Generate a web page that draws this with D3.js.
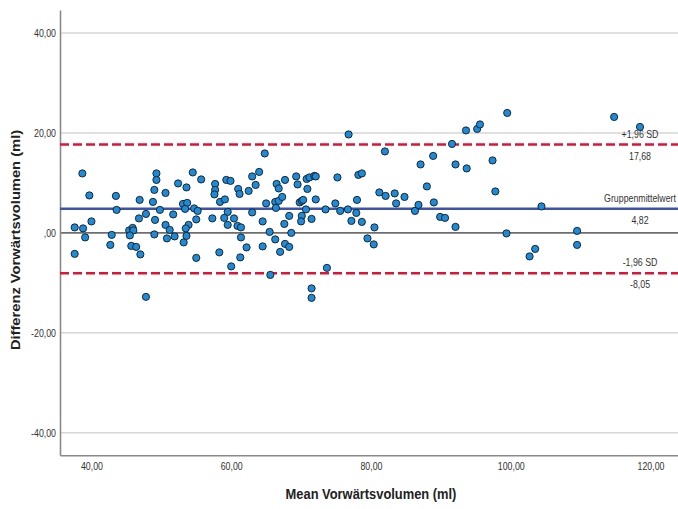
<!DOCTYPE html>
<html>
<head>
<meta charset="utf-8">
<script src="https://cdn.jsdelivr.net/npm/d3@7"></script>
<style>
    body { margin: 0; background: #fff; }
    svg text { font-family: "Liberation Sans", Arial, sans-serif; }
</style>
</head>
<body>
<div id="chart"></div>
<script>
// Bland-Altman: mean vs. difference of forward volume (ml)
const meanVolume = [
    38.7, 39.7, 37.6, 38.8, 40.0, 39.1, 37.6, 43.5, 43.6, 42.9,
    42.7, 46.9, 46.8, 47.8, 45.4, 45.9, 46.0, 45.5, 45.7, 46.4,
    47.0, 47.8, 49.3, 49.3, 49.0, 48.8, 50.6, 49.8, 49.1, 49.0,
    50.6, 51.2, 50.8, 51.9, 51.7, 52.4, 53.6, 54.5, 55.7, 57.7,
    57.7, 57.6, 53.1, 53.7, 53.4, 54.7, 55.2, 55.0, 53.9, 53.5,
    53.6, 53.2, 55.0, 57.3, 58.4, 59.1, 58.3, 59.3, 59.9, 59.5,
    59.0, 59.5, 60.0, 61.0, 61.2, 60.4, 60.9, 61.4, 61.4, 62.2,
    61.3, 62.5, 63.0, 63.5, 64.0, 63.0, 64.8, 64.5, 64.5, 65.5,
    65.6, 65.0, 66.3, 66.5, 66.8, 66.3, 66.8, 66.4, 67.3, 67.7,
    67.6, 67.0, 67.7, 68.3, 68.3, 68.6, 69.3, 69.5, 69.8, 70.1,
    70.3, 70.7, 70.1, 70.0, 71.5, 70.8, 71.2, 71.9, 72.1, 70.9,
    72.1, 71.5, 71.5, 73.5, 73.7, 74.9, 75.2, 75.6, 76.8, 76.7,
    77.2, 77.9, 78.0, 78.2, 78.7, 78.7, 79.5, 80.4, 80.5, 82.0,
    81.2, 82.1, 83.4, 83.6, 84.8, 86.3, 86.8, 87.1, 88.0, 88.9,
    89.0, 89.9, 90.6, 91.6, 92.1, 92.1, 93.6, 93.7, 95.2, 95.6,
    97.4, 97.8, 99.4, 99.5, 104.4, 102.7, 103.5, 109.5, 109.5, 114.8, 118.5
];
const diffVolume = [
    11.9, 7.5, 1.1, 0.9, 2.3, -0.9, -4.2, 7.4, 4.6, -0.4,
    -2.4, 6.6, 2.9, 3.8, 0.5, 1.0, 0.5, -0.5, -2.6, -2.8,
    -4.3, -12.8, 11.9, 10.6, 8.6, 6.2, 8.0, 4.6, 2.6, -0.3,
    1.6, 0.6, -1.1, -0.7, 3.7, 9.9, 9.1, 12.1, 10.7, 9.8,
    8.6, 7.7, 5.8, 6.0, 4.8, 4.9, 4.4, 2.7, 1.6, 0.9,
    -0.6, -1.9, -5.0, 2.9, 6.2, 6.7, -3.9, 10.6, 10.4, 4.2,
    3.0, 1.6, -6.7, 8.8, 7.8, 2.9, 1.4, 1.1, -0.9, -2.9,
    -4.9, 8.4, 11.3, 9.6, 12.2, 4.1, 15.9, 2.3, -2.7, 0.2,
    -8.4, 5.9, -1.3, 9.8, 8.9, 6.2, 6.4, 5.0, 7.2, 10.6,
    1.8, -3.8, -2.2, -2.8, 3.4, 0.0, 11.3, 9.7, 6.1, 6.4,
    6.6, 4.7, 3.4, 2.3, 2.8, 10.8, 11.1, 11.4, 11.3, 8.8,
    6.7, -11.1, -13.0, 4.7, -7.0, 5.9, 11.1, 4.4, 19.7, 4.7,
    2.4, 4.0, 6.6, 11.6, 11.9, 2.2, -1.1, -2.3, 1.1, 16.3,
    8.1, 7.4, 7.9, 5.9, 7.2, 4.4, 5.6, 13.7, 9.3, 15.4,
    6.1, 3.2, 3.0, 17.8, 13.7, 1.2, 20.5, 12.9, 20.8, 21.7,
    14.5, 8.3, -0.1, 24.0, 5.3, -4.7, -3.2, 0.4, -2.4, 23.2, 21.2
];

const xTicks = [40, 60, 80, 100, 120];
const yTicks = [-40, -20, 0, 20, 40];

// reference lines: mean difference and limits of agreement
const refLines = [
    { value: 17.68, kind: 'sd', above: '+1,96 SD', below: '17,68' },
    { value: 4.82, kind: 'mean', above: 'Gruppenmittelwert', below: '4,82' },
    { value: -8.05, kind: 'sd', above: '-1,96 SD', below: '-8,05' }
];

const width = 678, height = 509;
const margin = { top: 10, right: 0, bottom: 56, left: 60 };
const narrow = 0.8; // SPSS export uses a condensed face

const svg = d3.select('#chart').append('svg')
    .attr('width', width)
    .attr('height', height);

const x = d3.scaleLinear()
    .domain([35.5, 123.94])
    .range([margin.left, width - margin.right]);

const y = d3.scaleLinear()
    .domain([-44.5, 44.6])
    .range([height - margin.bottom + 2.3, margin.top]);

// german style numbers, SPSS prints zero as ",00"
const fmt = v => v === 0 ? ',00' : (v < 0 ? '-' : '') + Math.abs(v).toFixed(2).replace('.', ',');

// horizontal grid
svg.append('g')
    .selectAll('line')
    .data(yTicks.filter(d => d !== 0))
    .join('line')
    .attr('x1', x.range()[0])
    .attr('x2', x.range()[1])
    .attr('y1', d => y(d))
    .attr('y2', d => y(d))
    .attr('stroke', '#d6d6d6')
    .attr('stroke-width', 1.5);

// zero line
svg.append('line')
    .attr('x1', x.range()[0])
    .attr('x2', x.range()[1])
    .attr('y1', y(0))
    .attr('y2', y(0))
    .attr('stroke', '#6e6e6e')
    .attr('stroke-width', 1.6);

// axes
const xAxis = svg.append('g')
    .attr('transform', `translate(0,${y.range()[0]})`)
    .call(d3.axisBottom(x).tickValues(xTicks).tickSize(0).tickFormat(fmt));
const yAxis = svg.append('g')
    .attr('transform', `translate(${margin.left},0)`)
    .call(d3.axisLeft(y).tickValues(yTicks).tickSize(0).tickFormat(fmt));

[xAxis, yAxis].forEach(a => {
    a.select('.domain').attr('stroke', '#8a8a8a').attr('stroke-width', 1.6);
    a.selectAll('text')
        .attr('fill', '#333')
        .attr('transform', `scale(${narrow},1)`)
        .style('font-size', '11px');
});
xAxis.selectAll('text').attr('dy', '1.1em');
yAxis.selectAll('text').attr('x', -5).attr('dx', 0);

// mean + limits
refLines.forEach(r => {
    svg.append('line')
        .attr('x1', x.range()[0])
        .attr('x2', x.range()[1])
        .attr('y1', y(r.value))
        .attr('y2', y(r.value))
        .attr('stroke', r.kind === 'mean' ? '#3c53a8' : '#dc1538')
        .attr('stroke-width', 2.5)
        .attr('stroke-dasharray', r.kind === 'mean' ? null : '9,4');
});

// points
svg.append('g')
    .selectAll('circle')
    .data(d3.zip(meanVolume, diffVolume))
    .join('circle')
    .attr('cx', d => x(d[0]))
    .attr('cy', d => y(d[1]))
    .attr('r', 3.6)
    .attr('fill', '#1b8cdc')
    .attr('stroke', '#1a1a1a')
    .attr('stroke-width', 0.9);

// labels for reference lines
refLines.forEach(r => {
    svg.append('text')
        .attr('transform', `translate(640,${y(r.value) - 7}) scale(${narrow},1)`)
        .attr('text-anchor', 'middle')
        .attr('fill', '#333')
        .style('font-size', '11px')
        .text(r.above);
    svg.append('text')
        .attr('transform', `translate(640,${y(r.value) + 15}) scale(${narrow},1)`)
        .attr('text-anchor', 'middle')
        .attr('fill', '#333')
        .style('font-size', '11px')
        .text(r.below);
});

// axis titles
svg.append('text')
    .attr('transform', 'translate(371,499) scale(0.86,1)')
    .attr('text-anchor', 'middle')
    .attr('fill', '#222')
    .style('font-size', '15px')
    .style('font-weight', 'bold')
    .text('Mean Vorwärtsvolumen (ml)');

svg.append('text')
    .attr('transform', 'translate(20,240) rotate(-90) scale(0.98,0.88)')
    .attr('text-anchor', 'middle')
    .attr('fill', '#222')
    .style('font-size', '15px')
    .style('font-weight', 'bold')
    .text('Differenz Vorwärtsvolumen (ml)');
</script>
</body>
</html>
